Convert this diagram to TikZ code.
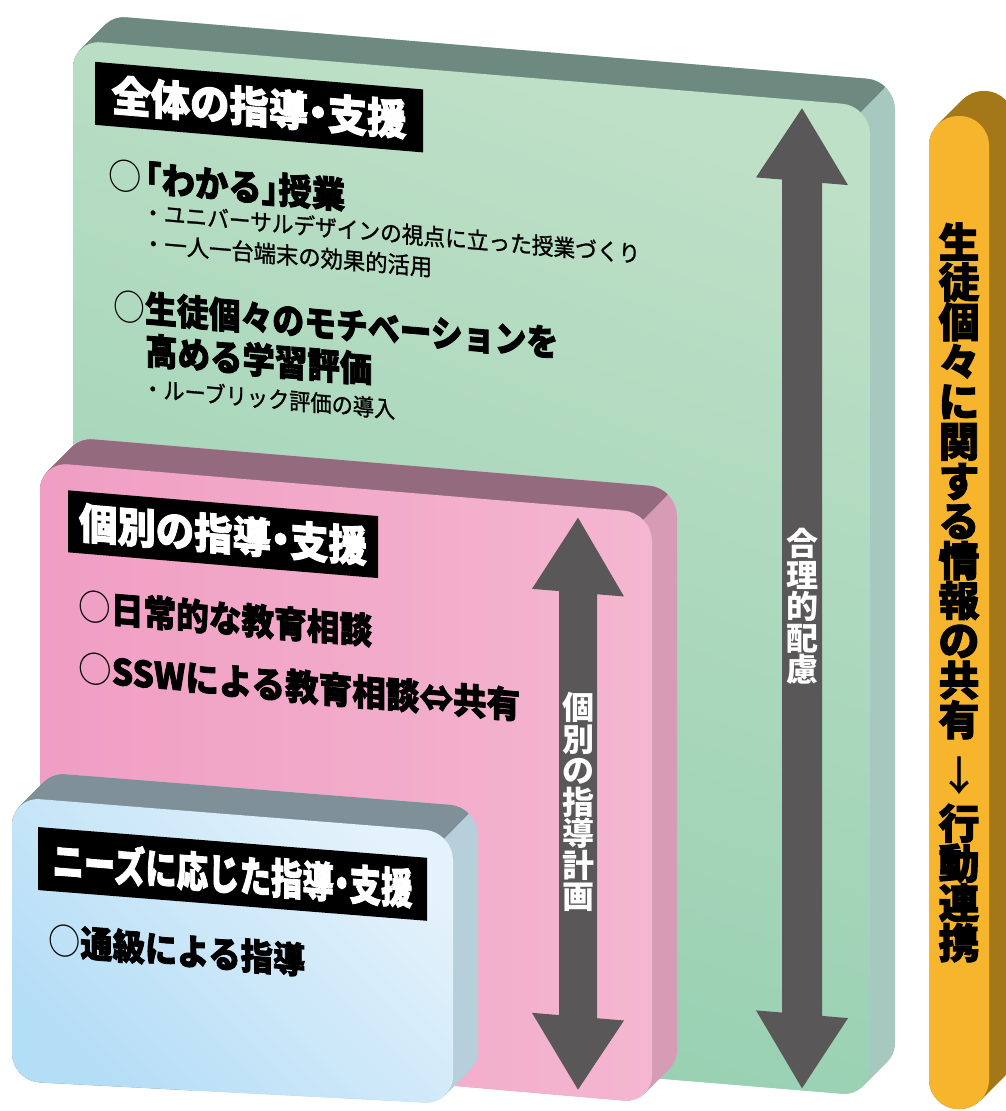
\documentclass[tikz,border=0pt]{standalone}
\usepackage{fontspec}
\setmainfont{Noto Sans CJK JP}
\newfontfamily\jpH{Noto Sans CJK JP}[BoldFeatures={FakeBold=2.2}]
\newfontfamily\jpO{Noto Sans CJK JP}[BoldFeatures={FakeBold=2.2}]
\newfontfamily\jpM{Noto Sans CJK JP}[UprightFeatures={FakeBold=1.2}]
\usepackage{graphicx}
\definecolor{gtop}{HTML}{6E8A80}
\definecolor{gside}{HTML}{A6C8BF}
\definecolor{gA}{HTML}{BEE0C7}
\definecolor{gB}{HTML}{96CFB1}
\definecolor{ptop}{HTML}{946B7E}
\definecolor{pside}{HTML}{D69CB5}
\definecolor{pA}{HTML}{F09EC3}
\definecolor{pB}{HTML}{F4B6D0}
\definecolor{btop}{HTML}{7F9099}
\definecolor{bside}{HTML}{B6CFDB}
\definecolor{bA}{HTML}{B4DDF6}
\definecolor{bB}{HTML}{E4F2FB}
\definecolor{ofront}{HTML}{F6B52D}
\definecolor{oside}{HTML}{A47818}
\definecolor{arr}{HTML}{595757}
\newcommand\fitw[2]{\resizebox{#1pt}{\height}{#2}}
\newcommand\ring{{\rmfamily\mdseries ○}}
\def\gface{(73,40) -- (870,106) -- (870,1096) -- (73,1030) -- cycle}
\def\pface{(40,462) -- (652,513) -- (652,1103) -- (40,1050) -- cycle}
\def\bface{(12,797) -- (453,832) -- (453,1104) -- (12,1081) -- cycle}
\begin{document}
\begin{tikzpicture}[x=1pt,y=-1pt,
  titletext/.style={text=white, font=\jpH\bfseries\fontsize{42}{42}\selectfont, inner sep=0pt, transform shape},
  bigtext/.style={anchor=west, font=\jpH\bfseries\fontsize{36}{36}\selectfont, inner sep=0pt, transform shape},
  smalltext/.style={anchor=west, font=\jpM\fontsize{23}{23}\selectfont, inner sep=0pt, transform shape},
  vtext/.style={text=white, font=\bfseries\fontsize{32}{31.5}\selectfont, align=center, inner sep=0pt},
  otext/.style={font=\jpO\bfseries\fontsize{41}{39.8}\selectfont, align=center, inner sep=0pt},
  titlebar/.style={fill=black},
  bigarrow/.style={fill=arr}
]
\useasboundingbox (0,0) rectangle (1006,1111);
\clip (0,0) rectangle (1006,1111);

% ===== green slab =====
\foreach \t in {0,...,25}{
  \begin{scope}[shift={(\t,-\t)}]
    \fill[gside, rounded corners=28pt] \gface;
  \end{scope}}
\begin{scope}
  \clip (262,710) -- (962,10) -- (962,-200) -- (-200,-200) -- (-200,710) -- cycle;
  \foreach \t in {0,...,25}{
    \begin{scope}[shift={(\t,-\t)}]
      \fill[gtop, rounded corners=28pt] \gface;
    \end{scope}}
\end{scope}
\shade[bottom color=gB, top color=gA, shading angle=-20, rounded corners=28pt] \gface;

\begin{scope}[shift={(73,40)}, yslant=-0.084]
  \fill[titlebar] (22,20) rectangle ++(328,63);
  \node[titletext] (gtitle) at (186,51.5) {\fitw{295}{全体の指導\kern-.25em・\kern-.25em支援}};
  \node[bigtext] (g1) at (35,132) {\fitw{237}{\ring\kern-.4em「わかる」\kern-.5em授業}};
  \node[smalltext] (g2) at (69,166) {\fitw{498}{・ユニバーサルデザインの視点に立った授業づくり}};
  \node[smalltext] (g3) at (69,197) {\fitw{290}{・一人一台端末の効果的活用}};
  \node[bigtext] (g4) at (40,262) {\fitw{445}{\ring 生徒個々のモチベーションを}};
  \node[bigtext] (g5) at (72,304) {\fitw{227}{高める学習評価}};
  \node[smalltext] (g6) at (69,342) {\fitw{253}{・ルーブリック評価の導入}};
  \fill[bigarrow] (729,7) -- (775,80) -- (749,80) -- (749,913) -- (775,913) -- (729,987)
     -- (683,913) -- (709,913) -- (709,80) -- (683,80) -- cycle;
\end{scope}
\node[vtext] (gv) at (802,606.5) {合\\理\\的\\配\\慮};

% ===== pink slab =====
\foreach \t in {0,...,25}{
  \begin{scope}[shift={(\t,-\t)}]
    \fill[pside, rounded corners=28pt] \pface;
  \end{scope}}
\begin{scope}
  \clip (45,1117) -- (745,417) -- (745,200) -- (-100,200) -- (-100,1117) -- cycle;
  \foreach \t in {0,...,25}{
    \begin{scope}[shift={(\t,-\t)}]
      \fill[ptop, rounded corners=28pt] \pface;
    \end{scope}}
\end{scope}
\shade[left color=pA, right color=pB, rounded corners=28pt] \pface;

\begin{scope}[shift={(40,462)}, yslant=-0.083]
  \fill[titlebar] (28,26) rectangle ++(310,62);
  \node[titletext] (ptitle) at (183,57) {\fitw{288}{個別の指導\kern-.25em・\kern-.25em支援}};
  \node[bigtext] (p1) at (38,141) {\fitw{294}{\ring 日常的な教育相談}};
  \node[bigtext] (p2) at (38,203) {\fitw{442}{\ring SSWによる教育相談⇔共有}};
  \fill[bigarrow] (538,11) -- (584,86) -- (557,86) -- (557,510) -- (584,510) -- (538,583)
     -- (492,510) -- (519,510) -- (519,86) -- (492,86) -- cycle;
\end{scope}
\node[vtext] (pv) at (578,802) {個\\別\\の\\指\\導\\計\\画};

% ===== blue slab =====
\foreach \t in {0,...,25}{
  \begin{scope}[shift={(\t,-\t)}]
    \fill[bside, rounded corners=28pt] \bface;
  \end{scope}}
\begin{scope}
  \clip (46,1236) -- (546,736) -- (546,600) -- (-100,600) -- (-100,1236) -- cycle;
  \foreach \t in {0,...,25}{
    \begin{scope}[shift={(\t,-\t)}]
      \fill[btop, rounded corners=28pt] \bface;
    \end{scope}}
\end{scope}
\shade[bottom color=bA, top color=bB, shading angle=-45, rounded corners=28pt] \bface;

\begin{scope}[shift={(12,797)}, yslant=-0.079]
  \fill[titlebar] (26,28) rectangle ++(389,63);
  \node[titletext] (btitle) at (220.5,59.5) {\fitw{360}{ニーズに応じた指導\kern-.25em・\kern-.25em支援}};
  \node[bigtext] (b1) at (36,140) {\fitw{257}{\ring 通級による指導}};
\end{scope}

% ===== orange bar =====
\foreach \t in {0,...,25}{
  \fill[oside, rounded corners=29.5pt] (929+\t,116-\t) rectangle (989+\t,1109-\t);}
\fill[ofront, rounded corners=29.5pt] (929,116) rectangle (989,1109);
\node[otext] (o1) at (959,481) {生\\徒\\個\\々\\に\\関\\す\\る\\情\\報\\の\\共\\有};
\node[font=\jpM\fontsize{40}{40}\selectfont, inner sep=0pt] (o2) at (959,775) {↓};
\node[otext] (o3) at (959,883) {行\\動\\連\\携};
\end{tikzpicture}
\end{document}
